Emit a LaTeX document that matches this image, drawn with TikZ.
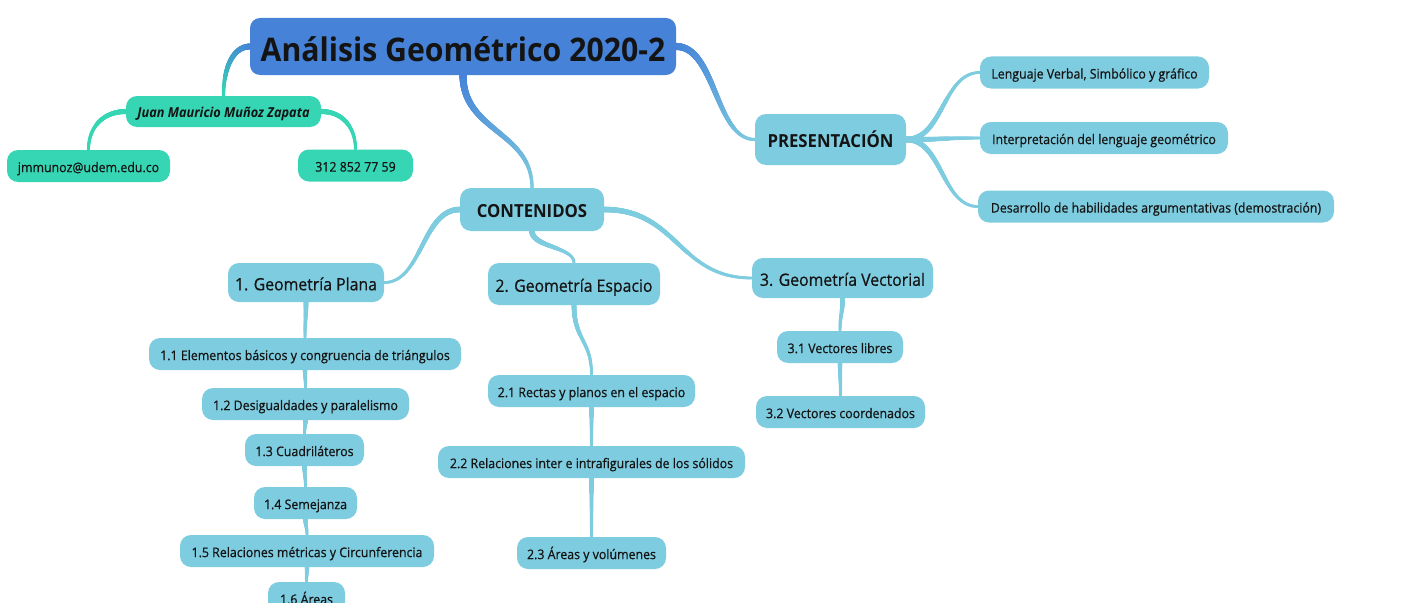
\documentclass[tikz,border=0pt]{standalone}
\usepackage{fontspec}
\setmainfont{Open Sans}[FakeStretch=0.93]
\newfontfamily\semib{Open Sans}[FakeStretch=0.93, FakeBold=0.6]
\usetikzlibrary{calc,decorations.markings}
\pgfdeclarelayer{background}
\pgfsetlayers{background,main}
\definecolor{tblue}{HTML}{4582D8}
\definecolor{tteal}{HTML}{36D6B4}
\definecolor{lblue}{HTML}{7ECCE0}
\definecolor{ink}{HTML}{141414}
\tikzset{
  base/.style={rounded corners=11pt, inner sep=0pt, text=ink, align=center},
  sub/.style={base, fill=lblue, minimum height=32pt, text height=15pt, text depth=2.8pt, font=\semib\fontsize{13.3}{15}\selectfont},
  contact/.style={base, fill=tteal, minimum height=32pt, text height=15pt, text depth=2.8pt, font=\semib\fontsize{13.3}{15}\selectfont},
  mid/.style={base, fill=lblue, text height=19pt, text depth=3.4pt, font=\semib\fontsize{17}{19}\selectfont},
  head/.style={base, fill=lblue, text height=20pt, text depth=3.6pt, font=\bfseries\fontsize{18}{20}\selectfont},
  titlebox/.style={base, rounded corners=10pt, fill=tblue, text height=36pt, text depth=6pt, font=\bfseries\fontsize{32.5}{35}\selectfont},
  tap/.style n args={4}{decorate,decoration={markings,
    mark=between positions 0 and 1 step 0.4pt with {%
      \pgfmathsetmacro\tf{\pgfkeysvalueof{/pgf/decoration/mark info/distance from start}/\pgfdecoratedpathlength}%
      \pgfmathsetmacro\tr{#3+(#4-#3)*\tf}%
      \pgfmathsetmacro\tp{100*(1-\tf)}%
      \fill[#1!\tp!#2] (0,0) circle[radius=\tr pt];}}}
}
\newcommand\hlink[3]{\coordinate (hm) at ($(#1)!0.5!(#2)$);
  \path[#3] (#1) .. controls (hm |- #1) and (hm |- #2) .. (#2);}
\newcommand\vlink[3]{\coordinate (hm) at ($(#1)!0.5!(#2)$);
  \path[#3] (#1) .. controls (#1 |- hm) and (#2 |- hm) .. (#2);}
\newcommand\elink[3]{\coordinate (hc) at (#2 |- #1);
  \path[#3] (#1) .. controls ($(#1)!0.6!(hc)$) and ($(#2)!0.6!(hc)$) .. (#2);}
\begin{document}
\begin{tikzpicture}[x=1pt,y=-1pt]
\begin{pgfonlayer}{background}
\fill[white] (0,0) rectangle (1420,610);
\end{pgfonlayer}
\useasboundingbox (0,0) rectangle (1420,610);
% title and contact
\node[titlebox, minimum width=426pt, minimum height=57pt] (title) at (463,46.5) {Análisis Geométrico 2020-2};
\node[contact, minimum width=195pt, minimum height=31pt, font=\bfseries\itshape\fontsize{13.7}{15}\selectfont] (juan) at (223.5,111.5) {Juan Mauricio Muñoz Zapata};
\node[contact, minimum width=163pt] (mail) at (88.5,166) {jmmunoz@udem.edu.co};
\node[contact, minimum width=115pt] (phone) at (355.5,165.5) {312 852 77 59};
% presentation
\node[head, minimum width=151pt, minimum height=51pt] (pres) at (830.5,139.5) {PRESENTACIÓN};
\node[sub, minimum width=229pt] (p1) at (1094.5,72.5) {Lenguaje Verbal, Simbólico y gráfico};
\node[sub, minimum width=248pt] (p2) at (1104,138) {Interpretación del lenguaje geométrico};
\node[sub, minimum width=356pt] (p3) at (1156,206.5) {Desarrollo de habilidades argumentativas (demostración)};
% contents
\node[head, minimum width=144pt, minimum height=43pt] (cont) at (532,209.5) {CONTENIDOS};
\node[mid, minimum width=156pt, minimum height=39pt] (plana) at (306,282.5) {1. Geometría Plana};
\node[mid, minimum width=172pt, minimum height=42pt] (esp) at (574,284) {2. Geometría Espacio};
\node[mid, minimum width=181pt, minimum height=40pt] (vect) at (842.5,278) {3. Geometría Vectorial};
\node[sub, minimum width=312pt] (a1) at (305,354) {1.1 Elementos básicos y congruencia de triángulos};
\node[sub, minimum width=207pt] (a2) at (305.5,404) {1.2 Desigualdades y paralelismo};
\node[sub, minimum width=119pt] (a3) at (304.5,450) {1.3 Cuadriláteros};
\node[sub, minimum width=103pt] (a4) at (305.5,503) {1.4 Semejanza};
\node[sub, minimum width=254pt] (a5) at (307,551) {1.5 Relaciones métricas y Circunferencia};
\node[sub, minimum width=77pt] (a6) at (306.5,598) {1.6 Áreas};
\node[sub, minimum width=207pt] (b1) at (591.5,391) {2.1 Rectas y planos en el espacio};
\node[sub, minimum width=307pt] (b2) at (591.5,462) {2.2 Relaciones inter e intrafigurales de los sólidos};
\node[sub, minimum width=149pt] (b3) at (591.5,553) {2.3 Áreas y volúmenes};
\node[sub, minimum width=126pt] (c1) at (840,347) {3.1 Vectores libres};
\node[sub, minimum width=169pt] (c2) at (840.5,412) {3.2 Vectores coordenados};
% connectors
\begin{pgfonlayer}{background}
\elink{title.west}{juan.north}{tap={tblue}{tteal}{3}{1.6}}
\hlink{title.east}{pres.west}{tap={tblue}{lblue}{3.6}{1.6}}
\vlink{title.south}{cont.north}{tap={tblue}{lblue}{3.6}{1.6}}
\elink{juan.west}{mail.north}{tap={tteal}{tteal}{2.6}{1.5}}
\elink{juan.east}{phone.north}{tap={tteal}{tteal}{2.6}{1.5}}
\hlink{pres.east}{p1.west}{tap={lblue}{lblue}{2.8}{1.4}}
\hlink{pres.east}{p2.west}{tap={lblue}{lblue}{2.8}{1.4}}
\hlink{pres.east}{p3.west}{tap={lblue}{lblue}{2.8}{1.4}}
\hlink{cont.west}{plana.east}{tap={lblue}{lblue}{2.8}{1.4}}
\vlink{cont.south}{esp.north}{tap={lblue}{lblue}{2.8}{1.4}}
\hlink{cont.east}{vect.west}{tap={lblue}{lblue}{2.8}{1.4}}
\vlink{plana.south}{a1.north}{tap={lblue}{lblue}{2.4}{1.4}}
\vlink{a1.south}{a2.north}{tap={lblue}{lblue}{2.2}{1.4}}
\vlink{a2.south}{a3.north}{tap={lblue}{lblue}{2.2}{1.4}}
\vlink{a3.south}{a4.north}{tap={lblue}{lblue}{2.2}{1.4}}
\vlink{a4.south}{a5.north}{tap={lblue}{lblue}{2.2}{1.4}}
\vlink{a5.south}{a6.north}{tap={lblue}{lblue}{2.2}{1.4}}
\vlink{esp.south}{b1.north}{tap={lblue}{lblue}{2.4}{1.4}}
\vlink{b1.south}{b2.north}{tap={lblue}{lblue}{2.2}{1.4}}
\vlink{b2.south}{b3.north}{tap={lblue}{lblue}{2.2}{1.4}}
\vlink{vect.south}{c1.north}{tap={lblue}{lblue}{2.4}{1.4}}
\vlink{c1.south}{c2.north}{tap={lblue}{lblue}{2.2}{1.4}}
\end{pgfonlayer}
\fill[white] (0,603) rectangle (1420,611);
\end{tikzpicture}
\end{document}
